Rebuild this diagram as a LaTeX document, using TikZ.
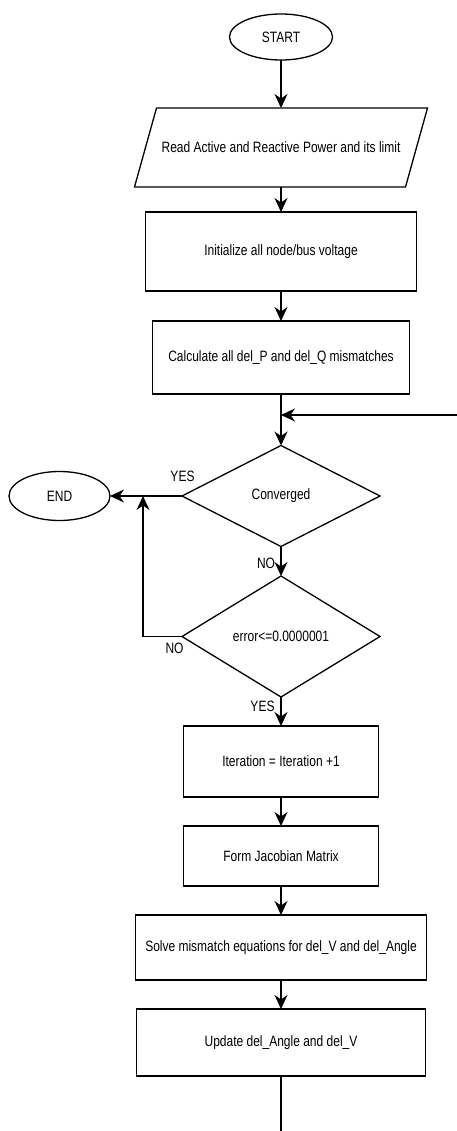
\documentclass[tikz,border=0pt]{standalone}
\usepackage{fontspec}
\newfontfamily\flowfont{Liberation Sans}[FakeStretch=0.8]
\usetikzlibrary{arrows.meta,shapes.geometric,calc}

\begin{document}
\begin{tikzpicture}[x=1pt,y=-1pt,
  every node/.style={font=\flowfont\fontsize{15}{18}\selectfont},
  line/.style={line width=1.3pt},
  proc/.style={line, draw, rectangle, inner sep=0pt, outer sep=0pt},
  term/.style={line, draw, ellipse, inner sep=0pt, outer sep=0pt},
  decision/.style={line, draw, diamond, inner sep=0pt, outer sep=0pt},
  flow/.style={line, -{Stealth[length=14pt,width=13pt,inset=4.5pt]}},
  tag/.style={inner sep=0pt}
]
\useasboundingbox (0,0) rectangle (457,1131);

% terminals
\node[term, minimum width=103pt, minimum height=46pt] (start) at (281,37) {START};
\node[term, minimum width=101pt, minimum height=49pt] (end) at (59.5,496) {END};

% input (parallelogram drawn around a plain node)
\node[inner sep=0pt, outer sep=0pt, minimum width=271pt, minimum height=79pt] (read) at (281,147.5)
  {Read Active and Reactive Power and its limit};
\draw[line] ($(read.north west)+(11,0)$) -- ($(read.north east)+(11,0)$)
  -- ($(read.south east)+(-11,0)$) -- ($(read.south west)+(-11,0)$) -- cycle;

% process steps
\node[proc, minimum width=271pt, minimum height=79pt] (init) at (281,251.5) {Initialize all node/bus voltage};
\node[proc, minimum width=257pt, minimum height=73pt] (calc) at (281,357.5) {Calculate all del\_P and del\_Q mismatches};

% decisions
\node[decision, minimum width=198pt, minimum height=101pt] (conv) at (281,496) {Converged};
\node[decision, minimum width=198pt, minimum height=121pt] (err) at (281,636.5) {error<=0.0000001};

\node[proc, minimum width=195pt, minimum height=71pt] (iter) at (281,761.5) {Iteration = Iteration +1};
\node[proc, minimum width=195pt, minimum height=60pt] (jac) at (281,856) {Form Jacobian Matrix};
\node[proc, minimum width=291pt, minimum height=65pt] (solve) at (281,947.5) {Solve mismatch equations for del\_V and del\_Angle};
\node[proc, minimum width=289pt, minimum height=67pt] (upd) at (281,1042.5) {Update del\_Angle and del\_V};

% branch labels
\node[tag] (yes1) at (182.5,476.5) {YES};
\node[tag] (no1) at (266,563.5) {NO};
\node[tag] (no2) at (174.5,648.5) {NO};
\node[tag] (yes2) at (262.5,706) {YES};

% helper points
\coordinate (fbin) at (457,415);
\coordinate (fbjoin) at (281,415);
\coordinate (loopjoin) at (143,496);
\coordinate (tail) at (281,1131);

% main flow
\draw[flow] (start.south) -- (read.north);
\draw[flow] (read.south) -- (init.north);
\draw[flow] (init.south) -- (calc.north);
\draw[flow] (calc.south) -- (conv.north);
\draw[flow] (conv.south) -- (err.north);
\draw[flow] (err.south) -- (iter.north);
\draw[flow] (iter.south) -- (jac.north);
\draw[flow] (jac.south) -- (solve.north);
\draw[flow] (solve.south) -- (upd.north);
\draw[line] (upd.south) -- (tail);

% branches and loops
\draw[flow] (conv.west) -- (conv.west -| end.east);
\draw[flow] (err.west) -| (loopjoin);
\draw[flow] (fbin) -- (fbjoin);
\end{tikzpicture}
\end{document}
